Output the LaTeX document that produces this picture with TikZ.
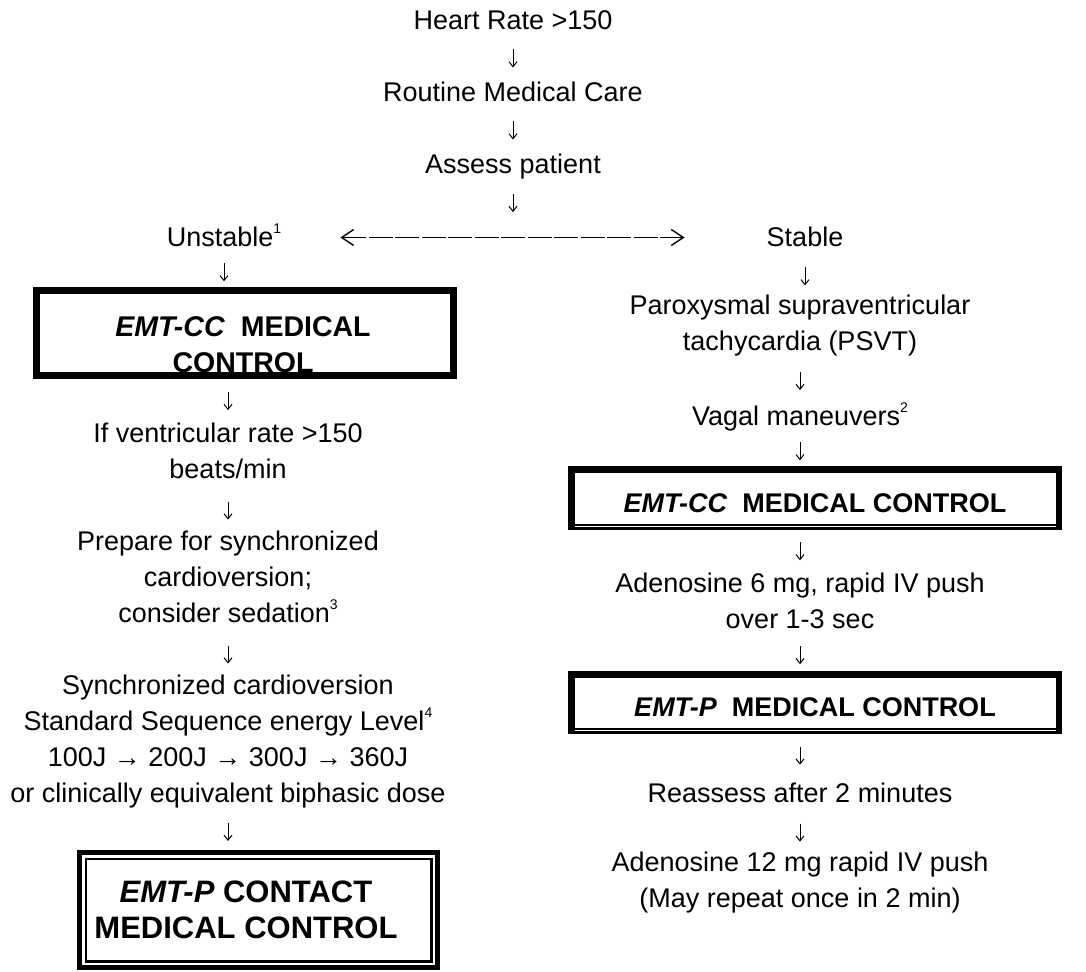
\documentclass[tikz,border=0pt]{standalone}
\usepackage{fontspec}
\setmainfont{Liberation Sans}
\usetikzlibrary{calc, arrows.meta}

\newcommand{\fnote}[1]{\raisebox{0.5em}{\fontsize{14}{14}\selectfont #1}}
\newcommand{\godown}[2]{\draw[flow] ($(#1)!0.5!(#1 |- #2)+(0,-9)$) -- ($(#1)!0.5!(#1 |- #2)+(0,9)$);}

\begin{document}
\begin{tikzpicture}[x=1pt, y=-1pt,
    txt/.style={font=\fontsize{27}{36}\selectfont, align=center, inner sep=0pt,
      execute at begin node=\strut, execute at end node=\strut},
    boxtext/.style={font=\fontsize{#1}{36}\selectfont\bfseries, align=center, inner sep=0pt},
    heavybox/.style={draw, line width=6.5pt, minimum width=487.5pt, minimum height=57.5pt,
      text height=29pt, font=\fontsize{27}{36}\selectfont\bfseries},
    flow/.style={-{Straight Barb[length=5pt,width=8pt]}, line width=1pt},
    split/.style={{Straight Barb[length=12pt,width=16pt]}-{Straight Barb[length=12pt,width=16pt]},
      line width=1.4pt, dash pattern=on 24pt off 2.5pt}]
    \useasboundingbox (0,0) rectangle (1086,971);

    % Top chain
    \node[txt] (heart) at (513,22.5) {Heart Rate >150};
    \node[txt] (routine) at (513,94.5) {Routine Medical Care};
    \node[txt] (assess) at (513,166.5) {Assess patient};
    \coordinate (fork) at (513,221.5);

    % Split into unstable / stable
    \node[txt] (unstable) at (224,239.5) {Unstable\fnote{1}};
    \node[txt] (stable) at (805,239.5) {Stable};
    \draw[split, shorten <=59pt, shorten >=82pt] ([yshift=2pt]unstable.east) -- ([yshift=2pt]stable.west);

    % Unstable branch
    \node[boxtext=28.5] (ccleft) at (243,345) {\textit{EMT-CC}~ MEDICAL\\CONTROL};
    \node[draw, line width=7pt, minimum width=417pt, minimum height=85pt] (boxleft) at (245,333) {};
    \node[txt] (ventricular) at (228,456.5) {If ventricular rate >150\\beats/min};
    \node[txt] (prepare) at (228,582.5) {Prepare for synchronized\\cardioversion;\\consider sedation\fnote{3}};
    \node[txt] (cardiovert) at (228,744.5) {Synchronized cardioversion\\Standard Sequence energy Level\fnote{4}\\100J → 200J → 300J → 360J\\or clinically equivalent biphasic dose};
    \node[boxtext=31] (contact) at (246,910) {\textit{EMT-P} CONTACT\\MEDICAL CONTROL};
    \node[draw, line width=5pt, minimum width=358pt, minimum height=115pt] (boxcontact) at (258.5,910) {};
    \draw[line width=2.5pt] ($(boxcontact.north west)+(8.75,8.75)$) rectangle ($(boxcontact.south east)+(-8.75,-8.75)$);

    % Stable branch
    \node[txt] (psvt) at (800,328.5) {Paroxysmal supraventricular\\tachycardia (PSVT)};
    \node[txt] (vagal) at (800,418.5) {Vagal maneuvers\fnote{2}};
    \node[heavybox] (ccright) at (815,498) {\textit{EMT-CC}~ MEDICAL CONTROL};
    \draw[white, line width=1.3pt] ($(ccright.south west)+(6.5,-3.7)$) -- ($(ccright.south east)+(-6.5,-3.7)$);
    \node[txt] (adeno6) at (800,606) {Adenosine 6 mg, rapid IV push\\over 1-3 sec};
    \node[heavybox, minimum height=56.5pt] (pright) at (815,702.5) {\textit{EMT-P}~ MEDICAL CONTROL};
    \draw[white, line width=1.3pt] ($(pright.south west)+(6.5,-3.7)$) -- ($(pright.south east)+(-6.5,-3.7)$);
    \node[txt] (reassess) at (800,795.5) {Reassess after 2 minutes};
    \node[txt] (adeno12) at (800,885) {Adenosine 12 mg rapid IV push\\(May repeat once in 2 min)};

    % Down arrows
    \godown{heart.south}{routine.north}
    \godown{routine.south}{assess.north}
    \godown{assess.south}{fork}
    \godown{unstable.south}{boxleft.north}
    \godown{ventricular.north}{boxleft.south}
    \godown{ventricular.south}{prepare.north}
    \godown{prepare.south}{cardiovert.north}
    \godown{cardiovert.south}{boxcontact.north}
    \godown{stable.south}{psvt.north}
    \godown{psvt.south}{vagal.north}
    \godown{vagal.south}{ccright.north}
    \godown{adeno6.north}{ccright.south}
    \godown{adeno6.south}{pright.north}
    \godown{reassess.north}{pright.south}
    \godown{reassess.south}{adeno12.north}
\end{tikzpicture}
\end{document}
